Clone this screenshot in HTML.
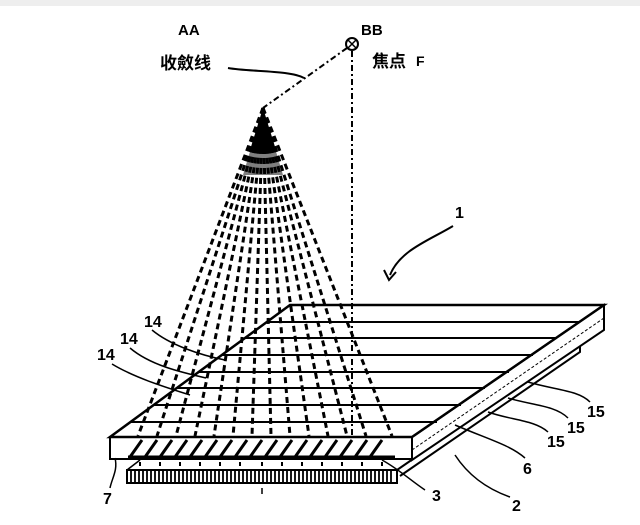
<!DOCTYPE html>
<html><head><meta charset="utf-8"><style>
html,body{margin:0;padding:0;background:#fff;width:640px;height:525px;overflow:hidden}
svg{display:block}
text{font-family:"Liberation Sans","Noto Sans CJK SC",sans-serif;font-weight:bold;fill:#000}
</style></head><body>
<svg width="640" height="525" viewBox="0 0 640 525" xmlns="http://www.w3.org/2000/svg">
<rect x="0" y="0" width="640" height="6" fill="#eee"/>
<text x="178" y="35" font-size="15" font-family="Liberation Serif">AA</text>
<text x="160" y="69" font-size="17">收斂线</text>
<text x="361" y="35" font-size="15" font-family="Liberation Serif">BB</text>
<text x="372" y="67" font-size="17">焦点</text>
<text x="416" y="66" font-size="14">F</text>
<path d="M228 68 C250 72 290 70 304 78" stroke="#000" stroke-width="2" fill="none"/>
<circle cx="352" cy="44" r="6" fill="none" stroke="#000" stroke-width="2"/>
<path d="M348 40 L356 48 M356 40 L348 48" stroke="#000" stroke-width="1.5"/>
<path d="M347 48 L263 108" stroke="#000" stroke-width="2" stroke-dasharray="6 3 2 3" fill="none"/>
<path d="M352 51 L352 440" stroke="#000" stroke-width="2" stroke-dasharray="6 3 2 3" fill="none"/>
<g stroke="#000" stroke-width="3" fill="none" stroke-dasharray="6 4">
<path d="M263 108 L138 436"/><path d="M263 108 L157 436"/><path d="M263 108 L176 436"/>
<path d="M263 108 L195 436"/><path d="M263 108 L214 436"/><path d="M263 108 L233 436"/>
<path d="M263 108 L252 436"/><path d="M263 108 L271 436"/><path d="M263 108 L290 436"/>
<path d="M263 108 L309 436"/><path d="M263 108 L328 436"/><path d="M263 108 L347 436"/>
<path d="M263 108 L366 436"/><path d="M263 108 L392 436"/>
</g>
<path d="M263 108 L250 150 L276 150 Z" fill="#000"/>
<path d="M263 108 L243 175 L283 175 Z" fill="#000" opacity="0.5"/>
<path d="M397 470 L580 344 L580 352 L400 476" fill="#fff" stroke="#000" stroke-width="2"/>
<rect x="127" y="470" width="270" height="13" fill="#fff" stroke="#000" stroke-width="2"/>
<g stroke="#000" stroke-width="1.8">
<path d="M131 471V482M135 471V482M139 471V482M143 471V482M147 471V482M151 471V482M155 471V482M159 471V482M163 471V482M167 471V482M171 471V482M175 471V482M179 471V482M183 471V482M187 471V482M191 471V482M195 471V482M199 471V482M203 471V482M207 471V482M211 471V482M215 471V482M219 471V482M223 471V482M227 471V482M231 471V482M235 471V482M239 471V482M243 471V482M247 471V482M251 471V482M255 471V482M259 471V482M263 471V482M267 471V482M271 471V482M275 471V482M279 471V482M283 471V482M287 471V482M291 471V482M295 471V482M299 471V482M303 471V482M307 471V482M311 471V482M315 471V482M319 471V482M323 471V482M327 471V482M331 471V482M335 471V482M339 471V482M343 471V482M347 471V482M351 471V482M355 471V482M359 471V482M363 471V482M367 471V482M371 471V482M375 471V482M379 471V482M383 471V482M387 471V482M391 471V482"/>
</g>
<g stroke="#000" stroke-width="2" stroke-dasharray="4 4">
<path d="M140 462V470M160 462V470M180 462V470M200 462V470M220 462V470M240 462V470M262 462V470M282 462V470M302 462V470M322 462V470M342 462V470M362 462V470M382 462V470"/>
</g>
<path d="M127 470 L140 460" stroke="#000" stroke-width="1.5"/>
<path d="M262 488V494" stroke="#000" stroke-width="1.5"/>
<path d="M412 437 L604 305 L604 330 L412 460 Z" fill="#fff" stroke="#000" stroke-width="2"/>
<path d="M412 450 L604 318" stroke="#000" stroke-width="1" stroke-dasharray="3 2"/>
<rect x="110" y="437" width="302" height="22" fill="#fff" stroke="#000" stroke-width="2"/>
<g stroke="#000" stroke-width="3">
<path d="M130 457 L142 440M145 457 L157 440M160 457 L172 440M175 457 L187 440M190 457 L202 440M205 457 L217 440M220 457 L232 440M235 457 L247 440M250 457 L262 440M265 457 L277 440M280 457 L292 440M295 457 L307 440M310 457 L322 440M325 457 L337 440M340 457 L352 440M355 457 L367 440M370 457 L382 440"/>
<path d="M128 457 H395" stroke-width="3"/>
</g>
<path d="M110 437 L290 305 L604 305 L412 437 Z" fill="none" stroke="#000" stroke-width="2.5"/>
<g stroke="#000" stroke-width="2">
<path d="M267 322 H580M245 338 H557M222 355 H533M199 372 H509M176 388 H485M154 405 H461M131 422 H437"/>
</g>
<text x="455" y="218" font-size="16">1</text>
<path d="M453 226 C430 240 400 250 390 275" stroke="#000" stroke-width="2" fill="none"/>
<path d="M384 270 L389 280 L396 272" stroke="#000" stroke-width="2" fill="none"/>
<text x="144" y="327" font-size="16">14</text>
<path d="M152 330 C170 345 200 355 225 360" stroke="#000" stroke-width="1.5" fill="none"/>
<text x="120" y="344" font-size="16">14</text>
<path d="M130 348 C150 365 180 372 206 378" stroke="#000" stroke-width="1.5" fill="none"/>
<text x="97" y="360" font-size="16">14</text>
<path d="M112 364 C135 378 168 388 190 395" stroke="#000" stroke-width="1.5" fill="none"/>
<text x="103" y="504" font-size="16">7</text>
<path d="M110 488 C112 478 118 470 115 458" stroke="#000" stroke-width="1.5" fill="none"/>
<text x="432" y="501" font-size="16">3</text>
<path d="M425 490 C410 480 400 470 382 460" stroke="#000" stroke-width="1.5" fill="none"/>
<text x="512" y="511" font-size="16">2</text>
<path d="M510 497 C490 490 470 478 455 455" stroke="#000" stroke-width="1.5" fill="none"/>
<text x="523" y="474" font-size="16">6</text>
<path d="M525 458 C510 445 490 440 455 425" stroke="#000" stroke-width="1.5" fill="none"/>
<text x="547" y="447" font-size="16">15</text>
<path d="M548 432 C535 420 510 420 488 412" stroke="#000" stroke-width="1.5" fill="none"/>
<text x="567" y="433" font-size="16">15</text>
<path d="M568 418 C555 405 530 405 508 398" stroke="#000" stroke-width="1.5" fill="none"/>
<text x="587" y="417" font-size="16">15</text>
<path d="M590 402 C578 390 555 390 528 382" stroke="#000" stroke-width="1.5" fill="none"/>
</svg>
</body></html>
